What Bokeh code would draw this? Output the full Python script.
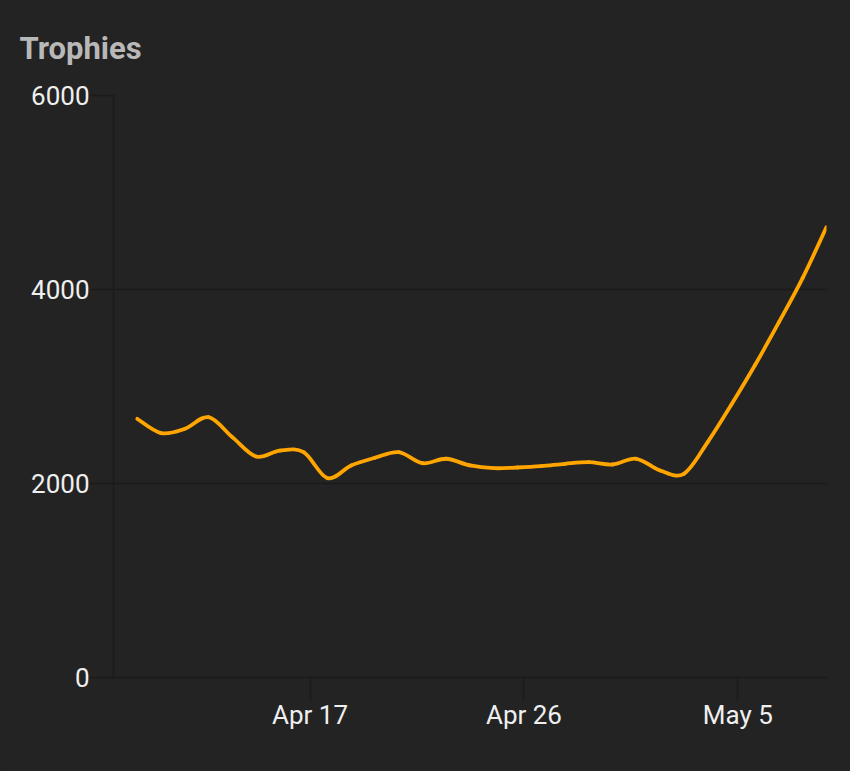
import pandas as pd
from bokeh.plotting import figure
from bokeh.models import FixedTicker, DatetimeTickFormatter, Title, ColumnDataSource, Range1d
from bokeh.embed import file_html
from bokeh.resources import INLINE

# ---- data ----
start_time = "2023-04-09 17:30"
trophies = [2667, 2520, 2564, 2684, 2478, 2278, 2340, 2323, 2055, 2186,
            2265, 2323, 2209, 2255, 2186, 2158, 2165, 2179, 2203, 2220,
            2196, 2255, 2134, 2100, 2426, 2814, 3224, 3663, 4120, 4643]
y_ticks = [0, 2000, 4000, 6000]
x_tick_dates = ["2023-04-17", "2023-04-26", "2023-05-05"]
title_text = "Trophies"

dates = pd.date_range(start_time, periods=len(trophies), freq="D")
xs = [d.timestamp() * 1000.0 for d in dates]
ys = list(trophies)
x_ticks = [pd.Timestamp(d).timestamp() * 1000.0 for d in x_tick_dates]
DAY = 86400000.0

# smooth path: Catmull-Rom segments drawn as Bezier curves
n = len(xs)
seg = dict(x0=[], y0=[], x1=[], y1=[], cx0=[], cy0=[], cx1=[], cy1=[])
for i in range(n - 1):
    p0 = (xs[i - 1], ys[i - 1]) if i > 0 else (xs[i], ys[i])
    p1 = (xs[i], ys[i])
    p2 = (xs[i + 1], ys[i + 1])
    p3 = (xs[i + 2], ys[i + 2]) if i + 2 < n else (xs[i + 1], ys[i + 1])
    seg["x0"].append(p1[0]); seg["y0"].append(p1[1])
    seg["x1"].append(p2[0]); seg["y1"].append(p2[1])
    seg["cx0"].append(p1[0] + (p2[0] - p0[0]) / 6.0)
    seg["cy0"].append(p1[1] + (p2[1] - p0[1]) / 6.0)
    seg["cx1"].append(p2[0] - (p3[0] - p1[0]) / 6.0)
    seg["cy1"].append(p2[1] - (p3[1] - p1[1]) / 6.0)
src = ColumnDataSource(seg)

BG = "#232323"
GRID = "#1b1b1b"

p = figure(width=850, height=771, x_axis_type="datetime",
           x_range=Range1d(xs[0] - DAY, xs[-1]), y_range=Range1d(0, 6000),
           output_backend="svg", toolbar_location=None,
           min_border_left=113, min_border_right=24,
           min_border_top=95, min_border_bottom=94,
           background_fill_color=BG, border_fill_color=BG)
p.outline_line_color = None

p.bezier(x0="x0", y0="y0", x1="x1", y1="y1", cx0="cx0", cy0="cy0",
         cx1="cx1", cy1="cy1", source=src, line_color="#FFA500",
         line_width=3.8, line_cap="round")

p.xgrid.visible = False
p.ygrid.grid_line_color = GRID
p.ygrid.grid_line_width = 1.5
p.ygrid.ticker = FixedTicker(ticks=y_ticks)

p.yaxis.ticker = FixedTicker(ticks=y_ticks)
p.xaxis.ticker = FixedTicker(ticks=x_ticks)
p.xaxis.formatter = DatetimeTickFormatter(days="%b %-d", months="%b %-d",
                                          hours="%b %-d")

for ax in (p.xaxis[0], p.yaxis[0]):
    ax.axis_line_color = GRID
    ax.axis_line_width = 1.5
    ax.major_tick_line_color = GRID
    ax.major_tick_line_width = 1.5
    ax.major_tick_in = 0
    ax.major_tick_out = 23
    ax.minor_tick_line_color = None
    ax.major_label_text_font = "Roboto"
    ax.major_label_text_font_size = "26px"
    ax.major_label_text_color = "#efefef"

p.yaxis.major_label_standoff = 1
p.xaxis.major_label_standoff = -1

p.add_layout(Title(text=title_text, align="left", offset=-94, standoff=54,
                   vertical_align="top",
                   text_font="Roboto", text_font_style="bold",
                   text_font_size="31px", text_color="#b8b8b8"), "above")

html = file_html(p, INLINE)
html = html.replace("<head>", "<head><style>html,body{background:#232323;}</style>", 1)
open("out.html", "w").write(html)
